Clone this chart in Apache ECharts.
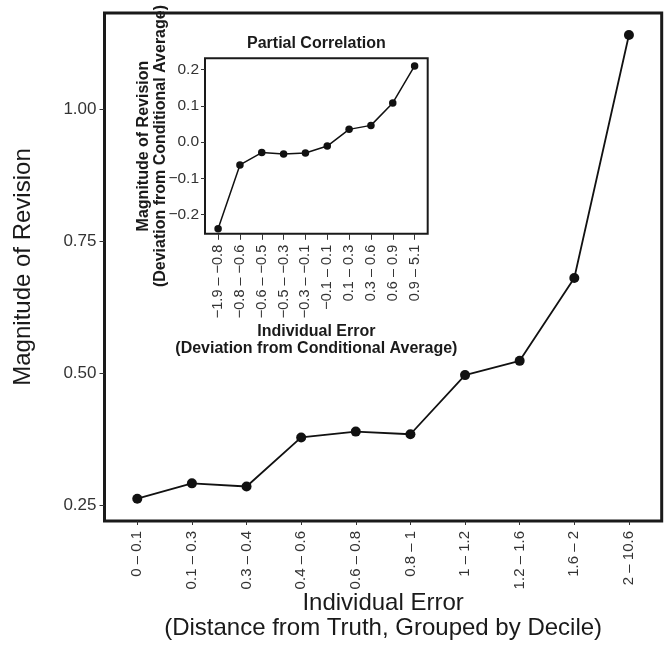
<!DOCTYPE html>
<html>
<head>
<meta charset="utf-8">
<script src="https://cdn.jsdelivr.net/npm/echarts@6/dist/echarts.min.js"></script>
<style>
html,body{margin:0;padding:0;background:#fff;}
#c{width:667px;height:652px;}
</style>
</head>
<body>
<div id="c"></div>
<script>
const mainCategories = ['0 – 0.1','0.1 – 0.3','0.3 – 0.4','0.4 – 0.6','0.6 – 0.8','0.8 – 1','1 – 1.2','1.2 – 1.6','1.6 – 2','2 – 10.6'];
const mainValues = [0.262, 0.291, 0.285, 0.378, 0.389, 0.384, 0.496, 0.523, 0.680, 1.140];
const mainYTicks = [0.25, 0.50, 0.75, 1.00];

const insetCategories = ['−1.9 – −0.8','−0.8 – −0.6','−0.6 – −0.5','−0.5 – −0.3','−0.3 – −0.1','−0.1 – 0.1','0.1 – 0.3','0.3 – 0.6','0.6 – 0.9','0.9 – 5.1'];
const insetValues = [-0.239, -0.063, -0.029, -0.033, -0.030, -0.011, 0.035, 0.046, 0.108, 0.210];
const insetYTicks = [-0.2, -0.1, 0.0, 0.1, 0.2];

const FONT = '"Liberation Sans", Arial, Helvetica, sans-serif';
const idx = mainCategories.map((_, i) => i);
const idx2 = insetCategories.map((_, i) => i);
const fmtMinus = v => (v < -1e-9 ? '−' : '') + Math.abs(v).toFixed(1);

const chart = echarts.init(document.getElementById('c'), null, {renderer: 'canvas'});
chart.setOption({
  animation: false,
  backgroundColor: '#fff',
  textStyle: {fontFamily: FONT},
  title: {
    text: 'Partial Correlation',
    left: 247, top: 36, padding: 0,
    textStyle: {fontFamily: FONT, fontSize: 16, fontWeight: 'bold', color: '#1a1a1a', lineHeight: 16}
  },
  grid: [
    {left: 104.5, top: 13, width: 557.2, height: 508, show: true, borderColor: '#1a1a1a', borderWidth: 3, backgroundColor: 'transparent', containLabel: false},
    {left: 205, top: 58.3, width: 222.7, height: 175.5, show: true, borderColor: '#1a1a1a', borderWidth: 2, backgroundColor: '#fff', containLabel: false}
  ],
  xAxis: [
    {
      type: 'value', gridIndex: 0, min: -0.6, max: 9.6,
      splitLine: {show: false}, axisLine: {show: false, onZero: false},
      axisTick: {show: true, length: 4, lineStyle: {color: '#333', width: 1}, customValues: idx},
      axisLabel: {customValues: idx, rotate: 90, margin: 10, fontSize: 15, color: '#333', fontFamily: FONT,
        formatter: v => mainCategories[Math.round(v)]},
      name: 'Individual Error\n(Distance from Truth, Grouped by Decile)',
      nameLocation: 'middle', nameGap: 70, nameMoveOverlap: false,
      nameTextStyle: {fontSize: 24, color: '#1a1a1a', lineHeight: 25, fontFamily: FONT}
    },
    {
      type: 'value', gridIndex: 1, min: -0.6, max: 9.6,
      splitLine: {show: false}, axisLine: {show: false, onZero: false},
      axisTick: {show: true, length: 6, lineStyle: {color: '#333', width: 1}, customValues: idx2},
      axisLabel: {customValues: idx2, rotate: 90, margin: 11, fontSize: 14.5, color: '#333', fontFamily: FONT,
        formatter: v => insetCategories[Math.round(v)]},
      name: 'Individual Error\n(Deviation from Conditional Average)',
      nameLocation: 'middle', nameGap: 89.6, nameMoveOverlap: false,
      nameTextStyle: {fontSize: 16, fontWeight: 'bold', color: '#1a1a1a', lineHeight: 16.6, fontFamily: FONT}
    }
  ],
  yAxis: [
    {
      type: 'value', gridIndex: 0, min: 0.2197, max: 1.1818,
      splitLine: {show: false}, axisLine: {show: false, onZero: false},
      axisTick: {show: true, length: 5, lineStyle: {color: '#333', width: 1}, customValues: mainYTicks},
      axisLabel: {customValues: mainYTicks, margin: 8, fontSize: 17, color: '#333', fontFamily: FONT,
        formatter: v => v.toFixed(2)},
      name: 'Magnitude of Revision',
      nameLocation: 'middle', nameGap: 69, nameMoveOverlap: false,
      nameTextStyle: {fontSize: 24, color: '#1a1a1a', lineHeight: 25, fontFamily: FONT}
    },
    {
      type: 'value', gridIndex: 1, min: -0.253, max: 0.231,
      splitLine: {show: false}, axisLine: {show: false, onZero: false},
      axisTick: {show: true, length: 4, lineStyle: {color: '#333', width: 1}, customValues: insetYTicks},
      axisLabel: {customValues: insetYTicks, margin: 6, fontSize: 15.5, color: '#333', fontFamily: FONT,
        formatter: fmtMinus},
      name: 'Magnitude of Revision\n(Deviation from Conditional Average)',
      nameLocation: 'middle', nameGap: 36, nameMoveOverlap: false,
      nameTextStyle: {fontSize: 16, fontWeight: 'bold', color: '#1a1a1a', lineHeight: 17, fontFamily: FONT}
    }
  ],
  series: [
    {
      type: 'line', xAxisIndex: 0, yAxisIndex: 0,
      data: mainValues.map((v, i) => [i, v]),
      symbol: 'circle', symbolSize: 10,
      lineStyle: {color: '#111', width: 1.8},
      itemStyle: {color: '#111'}
    },
    {
      type: 'line', xAxisIndex: 1, yAxisIndex: 1,
      data: insetValues.map((v, i) => [i, v]),
      symbol: 'circle', symbolSize: 7.5,
      lineStyle: {color: '#111', width: 1.5},
      itemStyle: {color: '#111'}
    }
  ]
});
</script>
</body>
</html>
